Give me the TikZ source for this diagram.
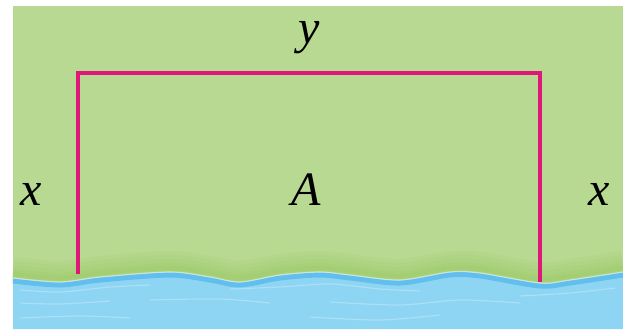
\documentclass[tikz,border=0pt]{standalone}
\usepackage{fontspec}
\setmainfont{Liberation Serif}
\definecolor{meadow}{RGB}{184,217,146}
\definecolor{meadowdark}{RGB}{140,196,80}
\definecolor{river}{RGB}{142,213,243}
\definecolor{riveredge}{RGB}{98,190,236}
\definecolor{fence}{RGB}{224,22,120}
\tikzset{lab/.style={font=\fontsize{48}{48}\selectfont\itshape,inner sep=0pt,anchor=base}}

\begin{document}
\begin{tikzpicture}[x=1pt,y=-1pt]
    \useasboundingbox (0,0) rectangle (623,329);
    \fill[meadow] (13,6) rectangle (623,329);
    % shade of the bank
    \foreach \w/\s in {26/8,20/7,14/6,8/5,4/4}
      \draw[meadowdark,line width=\w,opacity=0.1,yshift=\s pt] plot[smooth] coordinates {(13,278) (60,282) (100,277) (170,272) (210,277) (240,282) (280,275) (320,272) (350,275) (400,280) (450,272) (480,273) (540,283) (570,280) (623,272)};
    % river
    \fill[river] plot[smooth] coordinates {(13,278) (60,282) (100,277) (170,272) (210,277) (240,282) (280,275) (320,272) (350,275) (400,280) (450,272) (480,273) (540,283) (570,280) (623,272)} -- (623,329) -- (13,329) -- cycle;
    \draw[riveredge,line width=5,yshift=-3pt] plot[smooth] coordinates {(13,278) (60,282) (100,277) (170,272) (210,277) (240,282) (280,275) (320,272) (350,275) (400,280) (450,272) (480,273) (540,283) (570,280) (623,272)};
    \draw[white,opacity=0.45,line width=1.2] plot[smooth] coordinates {(13,278) (60,282) (100,277) (170,272) (210,277) (240,282) (280,275) (320,272) (350,275) (400,280) (450,272) (480,273) (540,283) (570,280) (623,272)};
    % streaks
    \draw[white,opacity=0.25,line width=1.2] plot[smooth] coordinates {(20,290) (60,292) (110,287) (150,285)};
    \draw[white,opacity=0.25,line width=1.2] plot[smooth] coordinates {(230,289) (280,287) (330,284) (380,289) (420,291)};
    \draw[white,opacity=0.25,line width=1.2] plot[smooth] coordinates {(520,296) (570,293) (615,288)};
    \draw[white,opacity=0.25,line width=1.2] plot[smooth] coordinates {(20,303) (60,304) (110,301)};
    \draw[white,opacity=0.25,line width=1.2] plot[smooth] coordinates {(150,300) (220,299) (270,303)};
    \draw[white,opacity=0.25,line width=1.2] plot[smooth] coordinates {(330,302) (400,305) (460,300) (520,303)};
    \draw[white,opacity=0.25,line width=1.2] plot[smooth] coordinates {(20,318) (80,316) (130,318)};
    \draw[white,opacity=0.25,line width=1.2] plot[smooth] coordinates {(310,317) (380,320) (440,315)};
    % fence
    \coordinate (bl) at (78,274);
    \coordinate (tl) at (78,73);
    \coordinate (tr) at (540,73);
    \coordinate (br) at (540,282);
    \draw[fence,line width=4] (bl) -- (tl) -- (tr) -- (br);
    % labels
    \node[lab] (ylab) at (309,44) {y};
    \node[lab] (xleft) at (31,205) {x};
    \node[lab] (area) at (306,205) {A};
    \node[lab] (xright) at (599,205) {x};
\end{tikzpicture}
\end{document}
